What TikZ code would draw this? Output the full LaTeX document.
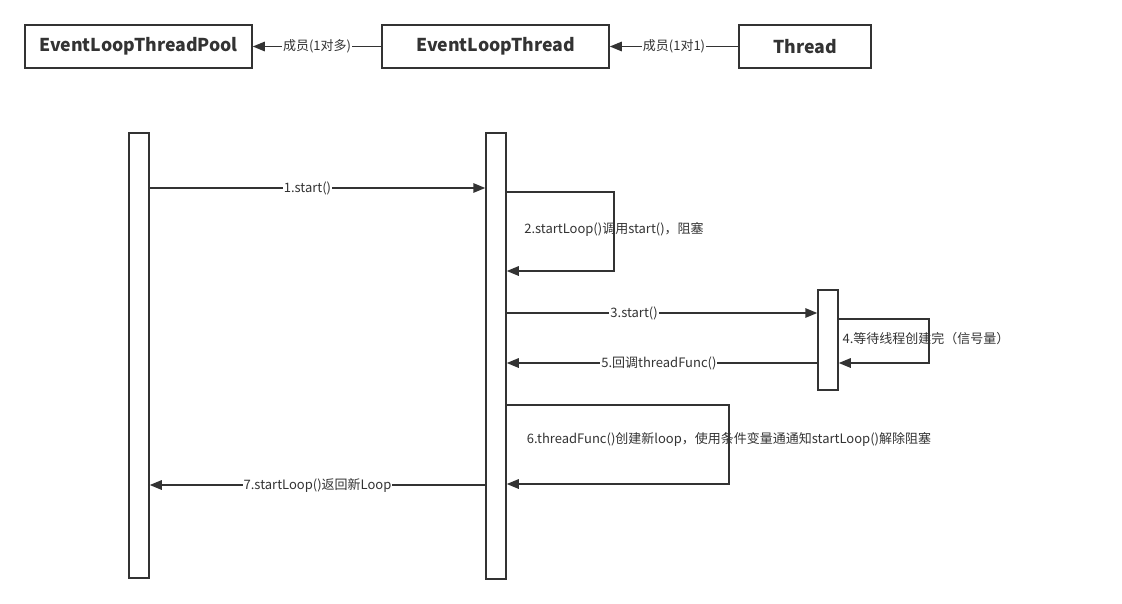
\documentclass[tikz,border=0pt]{standalone}
\usepackage{fontspec}
\setmainfont{Noto Sans CJK SC}
\usetikzlibrary{arrows.meta}
\definecolor{lc}{RGB}{51,51,51}
\begin{document}
\begin{tikzpicture}[x=1pt,y=-1pt,
  cls/.style={draw=lc, line width=1.6pt, rectangle, inner sep=0pt, text=lc,
    font=\bfseries\fontsize{17.7}{21}\selectfont},
  life/.style={draw=lc, line width=1.5pt, rectangle, inner sep=0pt, fill=white, minimum width=20pt},
  msg/.style={draw=lc, line width=1.5pt, -{Triangle[length=12pt,width=9.5pt]}},
  lbl/.style={fill=white, inner sep=1pt, text=lc, font=\fontsize{13}{15}\selectfont},
  lblnf/.style={inner sep=1pt, text=lc, font=\fontsize{13}{15}\selectfont}]
\useasboundingbox (0,0) rectangle (1122,603);
% top class boxes
\node[cls, minimum width=227pt, minimum height=43pt] (pool) at (138.5,46.5) {EventLoopThreadPool};
\node[cls, minimum width=227pt, minimum height=43pt] (elt) at (495.5,46.5) {EventLoopThread};
\node[cls, minimum width=132pt, minimum height=43pt] (thr) at (805,46.5) {Thread};
\draw[msg] (elt.west) -- node[lbl] {成员(1对多)} (pool.east);
\draw[msg] (thr.west) -- node[lbl] {成员(1对1)} (elt.east);
% lifelines
\node[life, minimum height=445pt] (L) at (139,355.5) {};
\node[life, minimum height=446pt] (M) at (496,356) {};
\node[life, minimum height=100pt] (T) at (828,340) {};
% 1
\draw[msg] (L.east |- 0,188) -- node[lbl, pos=0.47] {1.start()} (M.west |- 0,188);
% 2 self loop
\coordinate (c2a) at (614,192);
\coordinate (c2b) at (614,271);
\draw[msg] (M.east |- 0,192) -- (c2a) -- (c2b) -- (M.east |- 0,271);
\node[lblnf] (l2) at (614,229) {2.startLoop()调用start()，阻塞};
% 3
\draw[msg] (M.east |- 0,313) -- node[lbl, pos=0.41] {3.start()} (T.west |- 0,313);
% 4 self loop on Thread
\coordinate (c4a) at (929,319);
\coordinate (c4b) at (929,363);
\draw[msg] (T.east |- 0,319) -- (c4a) -- (c4b) -- (T.east |- 0,363);
\node[lblnf] (l4) at (926,339) {4.等待线程创建完（信号量）};
% 5
\draw[msg] (T.west |- 0,363) -- node[lbl, pos=0.51] {5.回调threadFunc()} (M.east |- 0,363);
% 6 self loop
\coordinate (c6a) at (729,405);
\coordinate (c6b) at (729,484);
\draw[msg] (M.east |- 0,405) -- (c6a) -- (c6b) -- (M.east |- 0,484);
\node[lblnf] (l6) at (729,439) {6.threadFunc()创建新loop，使用条件变量通通知startLoop()解除阻塞};
% 7
\draw[msg] (M.west |- 0,485) -- node[lbl, pos=0.5] {7.startLoop()返回新Loop} (L.east |- 0,485);
\end{tikzpicture}
\end{document}
